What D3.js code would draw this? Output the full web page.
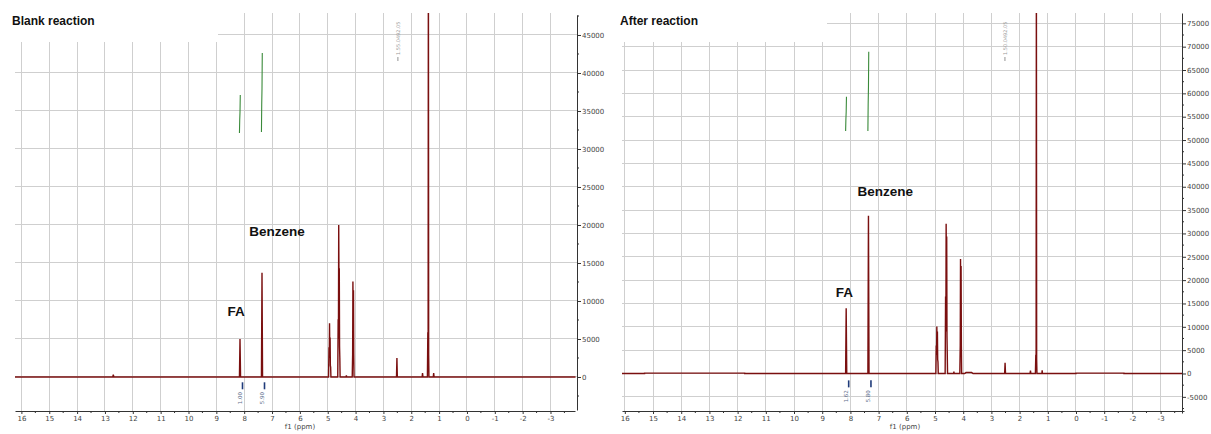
<!DOCTYPE html>
<html><head><meta charset="utf-8">
<script src="https://cdn.jsdelivr.net/npm/d3@7"></script>
<style>body{margin:0;background:#fff}svg{display:block}</style>
</head><body><svg id="c" width="1211" height="434"></svg>
<script>
// ---------- DATA ----------
const ppmTickLabels = [16,15,14,13,12,11,10,9,8,7,6,5,4,3,2,1,0,-1,-2,-3];
const blankYTicks = [0,5000,10000,15000,20000,25000,30000,35000,40000,45000];
const afterYTicks = [-5000,0,5000,10000,15000,20000,25000,30000,35000,40000,45000,50000,55000,60000,65000,70000,75000];
const panelTitles = ["Blank reaction", "After reaction"];
const xAxisTitle = "f1 (ppm)";

// spectrum points [ppm, intensity]
const blankSpectrum = [
  [16.3,0],[12.72,0],[12.70,300],[12.68,0],
  [8.17,0],[8.15,5000],[8.13,0],
  [7.38,0],[7.36,13700],[7.34,0],
  [4.97,0],[4.955,3900],[4.945,2500],[4.935,7070],[4.925,3000],[4.915,5200],[4.905,1500],[4.895,1300],[4.885,0],
  [4.64,0],[4.625,7600],[4.615,5000],[4.605,20000],[4.595,12000],[4.585,14300],[4.575,4000],[4.565,2500],[4.555,0],
  [4.34,0],[4.33,200],[4.32,0],
  [4.12,0],[4.105,3000],[4.095,12560],[4.085,6000],[4.075,11400],[4.065,3000],[4.055,0],
  [2.53,0],[2.515,2500],[2.50,0],
  [1.61,0],[1.595,500],[1.58,0],
  [1.42,0],[1.405,5900],[1.395,1500],[1.385,60000],[1.375,3000],[1.365,0],
  [1.21,0],[1.195,500],[1.18,0],
  [-3.9,0]
];
const afterSpectrum = [
  [16.3,0],[15.3,0],[15.3,90],[11.75,90],[11.75,0],
  [8.17,0],[8.15,14000],[8.13,0],
  [7.38,0],[7.36,33800],[7.34,0],
  [4.97,0],[4.955,6000],[4.945,4000],[4.935,10040],[4.925,5000],[4.915,9000],[4.905,3000],[4.895,2500],[4.885,0],
  [4.64,0],[4.625,16500],[4.615,9000],[4.605,32080],[4.595,20000],[4.585,29350],[4.575,8000],[4.565,4000],[4.555,0],
  [4.34,0],[4.33,400],[4.32,0],
  [4.12,0],[4.105,6000],[4.095,24500],[4.085,12000],[4.075,23000],[4.065,6000],[4.055,0],
  [3.95,0],[3.9,200],[3.7,200],[3.65,0],
  [2.53,0],[2.515,2300],[2.50,0],
  [1.63,0],[1.615,600],[1.60,0],
  [1.44,0],[1.425,4000],[1.415,1500],[1.405,90000],[1.395,3000],[1.385,0],
  [1.21,0],[1.20,700],[1.19,0],
  [0,0],[0,80],[-1.7,80],[-1.7,0],
  [-3.9,0]
];

// integral curves: ppm, start value, end value (in the panel's intensity units), integral text
const blankIntegrals = [
  {ppm:8.15, lo:32100, hi:37100, text:"1.00"},
  {ppm:7.36, lo:32240, hi:42630, text:"5.90"}
];
const afterIntegrals = [
  {ppm:8.15, lo:51940, hi:59290, text:"1.62"},
  {ppm:7.36, lo:51940, hi:68920, text:"5.80"}
];

// peak annotations
const blankPeakLabels = [{text:"FA", ppm:8.29, value:8030},{text:"Benzene", ppm:6.82, value:18550}];
const afterPeakLabels = [{text:"FA", ppm:8.21, value:16380},{text:"Benzene", ppm:6.76, value:38000}];
const blankPickLabel = {ppm:2.48, text:"1.55.0492.05"};
const afterPickLabel = {ppm:2.52, text:"1.50.0492.05"};

// ---------- LAYOUT ----------
const svg = d3.select("#c");
svg.append("rect").attr("width",1211).attr("height",434).attr("fill","#fff");

const panels = [
  {title:panelTitles[0], spectrum:blankSpectrum, integrals:blankIntegrals, labels:blankPeakLabels, pick:blankPickLabel,
   yTicks:blankYTicks, minorStep:2500,
   xDomain:[16.23,-3.88], xRange:[15,575], yDomain:[-4342,47630], yRange:[410,15],
   top:13, axisY:411, yAxisX:577, titleBox:[0,218,42], titleX:12, titleY:25, xTitleX:300},
  {title:panelTitles[1], spectrum:afterSpectrum, integrals:afterIntegrals, labels:afterPeakLabels, pick:afterPickLabel,
   yTicks:afterYTicks, minorStep:2500,
   xDomain:[16.1,-3.83], xRange:[622,1184], yDomain:[-8460,77210], yRange:[413,13],
   top:13, axisY:411, yAxisX:1182, titleBox:[610,827,42], titleX:620, titleY:25, xTitleX:905}
];

const red = "#7a0f0f";
const gridCol = "#cfcfcf";

panels.forEach((p,i) => {
  const x = d3.scaleLinear().domain(p.xDomain).range(p.xRange);
  const y = d3.scaleLinear().domain(p.yDomain).range(p.yRange);
  const g = svg.append("g");
  const left = p.xRange[0];

  // grid
  g.append("g").selectAll("line").data(ppmTickLabels).join("line")
    .attr("x1",d=>x(d)).attr("x2",d=>x(d)).attr("y1",p.top).attr("y2",p.axisY)
    .attr("stroke",gridCol).attr("stroke-width",1).attr("shape-rendering","crispEdges");
  g.append("g").selectAll("line").data(p.yTicks).join("line")
    .attr("x1",left).attr("x2",p.yAxisX).attr("y1",d=>y(d)).attr("y2",d=>y(d))
    .attr("stroke",gridCol).attr("stroke-width",1).attr("shape-rendering","crispEdges");

  // title box
  g.append("rect").attr("x",p.titleBox[0]).attr("y",0).attr("width",p.titleBox[1]-p.titleBox[0]).attr("height",p.titleBox[2]).attr("fill","#fff");
  g.append("text").attr("x",p.titleX).attr("y",p.titleY).text(p.title)
    .attr("font-family","Liberation Sans, Arial, sans-serif").attr("font-weight","bold").attr("font-size",12).attr("fill","#111");

  // clip
  const cid = "clip"+i;
  svg.append("clipPath").attr("id",cid).append("rect")
    .attr("x",left).attr("y",p.top).attr("width",p.yAxisX-left).attr("height",p.axisY-p.top);

  // spectrum
  const line = d3.line().x(d=>x(d[0])).y(d=>y(d[1]));
  g.append("path").datum(p.spectrum).attr("d",line).attr("fill","none")
    .attr("stroke",red).attr("stroke-width",1.4).attr("clip-path",`url(#${cid})`);

  // integrals (green curves)
  p.integrals.forEach(it => {
    const pts = [[it.ppm+0.02,it.lo],[it.ppm+0.01,it.lo+(it.hi-it.lo)*0.35],[it.ppm,it.lo+(it.hi-it.lo)*0.55],[it.ppm-0.01,it.hi]];
    g.append("path").datum(pts).attr("d",line).attr("fill","none").attr("stroke","#3a8a3a").attr("stroke-width",1.1);
    // integral value under the baseline
    const tx = x(it.ppm);
    const ty = y(0)+ (p.axisY - y(0))*0.45;
    g.append("line").attr("x1",tx+2.5).attr("x2",tx+2.5).attr("y1",ty-10).attr("y2",ty-3).attr("stroke","#1f3b7a").attr("stroke-width",1.6);
    g.append("text").attr("transform",`translate(${tx+2},${ty+12}) rotate(-90)`)
      .text(it.text).attr("font-family","DejaVu Sans, sans-serif").attr("font-size",5.5).attr("fill","#5a6b8a");
  });

  // pick label near top
  const pxp = x(p.pick.ppm);
  g.append("line").attr("x1",pxp).attr("x2",pxp).attr("y1",p.top+44).attr("y2",p.top+48).attr("stroke","#777").attr("stroke-width",0.8);
  g.append("text").attr("transform",`translate(${pxp+2},${p.top+42}) rotate(-90)`)
    .text(p.pick.text).attr("font-family","DejaVu Sans, sans-serif").attr("font-size",5).attr("fill","#999");

  // peak labels
  g.selectAll(".pl").data(p.labels).join("text")
    .attr("x",d=>x(d.ppm)).attr("y",d=>y(d.value)).attr("text-anchor","middle")
    .text(d=>d.text).attr("font-family","Liberation Sans, Arial, sans-serif").attr("font-weight","bold").attr("font-size",13.5).attr("fill","#111");

  // x axis
  const xa = g.append("g").attr("transform",`translate(0,${p.axisY})`)
    .call(d3.axisBottom(x).tickValues(ppmTickLabels).tickSize(3).tickSizeOuter(0).tickFormat(d=>d));
  xa.select(".domain").attr("stroke","#333");
  xa.selectAll(".tick line").attr("stroke","#333");
  xa.selectAll(".tick text").attr("font-family","DejaVu Sans, sans-serif").attr("font-size",7).attr("fill","#444").attr("dy","0.6em");
  const minorX = ppmTickLabels.map(d=>d-0.5);
  g.append("g").selectAll("line").data(minorX).join("line")
    .attr("x1",d=>x(d)).attr("x2",d=>x(d)).attr("y1",p.axisY).attr("y2",p.axisY+2).attr("stroke","#333");
  g.append("text").attr("x",p.xTitleX).attr("y",p.axisY+18).attr("text-anchor","middle").text(xAxisTitle)
    .attr("font-family","DejaVu Sans, sans-serif").attr("font-size",7).attr("fill","#444");

  // y axis
  const ya = g.append("g").attr("transform",`translate(${p.yAxisX},0)`)
    .call(d3.axisRight(y).tickValues(p.yTicks).tickSize(4).tickSizeOuter(0).tickFormat(d=>d));
  ya.select(".domain").attr("stroke","#333");
  ya.selectAll(".tick line").attr("stroke","#333");
  ya.selectAll(".tick text").attr("font-family","DejaVu Sans, sans-serif").attr("font-size",7).attr("fill","#444").attr("x",5);
  const minorY = p.yTicks.map(d=>d-p.minorStep).concat([p.yTicks[p.yTicks.length-1]+p.minorStep])
    .filter(v=>v>p.yDomain[0] && v<p.yDomain[1]);
  g.append("g").selectAll("line").data(minorY).join("line")
    .attr("x1",p.yAxisX).attr("x2",p.yAxisX+2).attr("y1",d=>y(d)).attr("y2",d=>y(d)).attr("stroke","#333");
});
</script></body></html>
